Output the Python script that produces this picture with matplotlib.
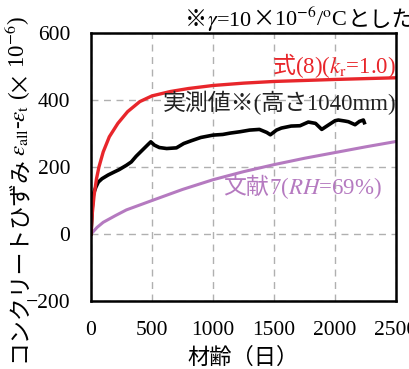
import numpy as np
import matplotlib
matplotlib.use("Agg")
import matplotlib.pyplot as plt
from matplotlib.transforms import IdentityTransform

plt.rcParams["font.family"] = ["Liberation Serif", "Noto Sans CJK JP"]
plt.rcParams["mathtext.fontset"] = "stix"

# ---------------------------------------------------------------------------
# Data (age in days, strain x10^-6)
# ---------------------------------------------------------------------------
red_t = [0, 10, 25, 45, 65, 100, 150, 220, 300, 400, 500, 650, 800,
         1000, 1250, 1500, 2000, 2500]
red_v = [0, 60, 115, 165, 200, 245, 290, 330, 365, 395, 412, 425, 434,
         443, 450, 455, 461, 466]

purple_t = [0, 50, 100, 200, 290, 500, 750, 1000, 1250, 1500, 1750,
            2000, 2250, 2500]
purple_v = [0, 20, 35, 55, 72, 100, 133, 162, 186, 207, 226, 243, 260, 276]

meas_t = [0, 10, 20, 40, 60, 90, 140, 190, 230, 290, 330, 370, 420, 470,
          490, 520, 560, 620, 700, 760, 820, 900, 1000, 1080, 1140, 1220,
          1300, 1380, 1440, 1470, 1520, 1560, 1640, 1713, 1781, 1840, 1891,
          1945, 2000, 2027, 2080, 2109, 2164, 2200, 2232, 2240]
meas_v = [0, 80, 120, 140, 155, 165, 176, 185, 192, 205, 215, 232, 250,
          268, 275, 265, 258, 255, 257, 270, 278, 288, 295, 297, 301, 305,
          310, 312, 303, 296, 310, 316, 322, 323, 334, 330, 312, 325, 338,
          340, 337, 335, 326, 336, 340, 332]

x_ticks = [0, 500, 1000, 1500, 2000, 2500]
y_ticks = [-200, 0, 200, 400, 600]

RED = "#e8262b"
PURPLE = "#b57ac0"
DARK = "#222222"
SERIF = "Liberation Serif"
CJK = "Noto Sans CJK JP"

fig = plt.figure(figsize=(4.1, 3.69), dpi=100)
ax = fig.add_axes([0.222, 0.184, 0.744, 0.727])
H = 369  # figure height in pixels


def chain(pieces, x, y, rot=0, ha="left", **kw):
    """Lay out text pieces one after another (mathtext has no CJK fallback)."""
    renderer = fig.canvas.get_renderer()
    texts = [fig.text(0, 0, s, family=fam, transform=IdentityTransform(),
                      rotation=rot, rotation_mode="anchor",
                      ha="left", va="baseline", **kw) for s, fam in pieces]
    sizes = []
    for t in texts:
        bb = t.get_window_extent(renderer)
        sizes.append(bb.width if rot == 0 else bb.height)
    total = sum(sizes)
    pos = {"left": 0, "center": -total / 2, "right": -total}[ha]
    pos += x if rot == 0 else y
    for t, s in zip(texts, sizes):
        t.set_position((pos, y) if rot == 0 else (x, pos))
        pos += s
    return texts


ax.plot(purple_t, purple_v, color=PURPLE, lw=2.2)
ax.plot(meas_t, meas_v, color="black", lw=2.6)
ax.plot(red_t, red_v, color=RED, lw=2.4)

ax.set_xlim(0, 2500)
ax.set_ylim(-200, 600)
ax.set_xticks(x_ticks)
ax.set_yticks(y_ticks)
ax.tick_params(length=0, labelsize=15.5, pad=14)
ax.tick_params(axis="y", pad=15)
ax.grid(True, color="#b0b0b0", ls=(0, (5, 4)), lw=1)
for s in ax.spines.values():
    s.set_linewidth(1.8)

# annotations (anchored in data space, laid out in pixels)
fs = 16.5
x_r, y_r = ax.transData.transform((2500, 470))
chain([("式", CJK), ("(8)($k_{\\rm r}$=1.0)", SERIF)], x_r, y_r + 3,
      ha="right", color=RED, fontsize=fs)
ax.text(2500, 392, "実測値※(高さ1040mm)", color=DARK, fontsize=fs,
        ha="right", va="center")
x_p, y_p = ax.transData.transform((1080, 140))
chain([("文献", CJK), ("7($RH$=69%)", SERIF)], x_p, y_p - 7,
      color=PURPLE, fontsize=fs)

fig.text(0.594, 0.03, "材齢（日）", fontsize=16, ha="center", va="center")
chain([("コンクリートひずみ", CJK),
       ("$\\varepsilon_{\\rm all}$-$\\varepsilon_{\\rm t}$ (", SERIF),
       ("×", CJK), ("10$^{-6}$)", SERIF)],
      25, H - 362, rot=90, fontsize=16.5)
chain([("※", CJK), ("$\\gamma$=10", SERIF), ("×", CJK),
       ("10$^{-6}$/$^{\\rm o}$C", SERIF), ("とした", CJK)],
      185, H - 26, fontsize=16)

fig.savefig("out.png", dpi=100)
